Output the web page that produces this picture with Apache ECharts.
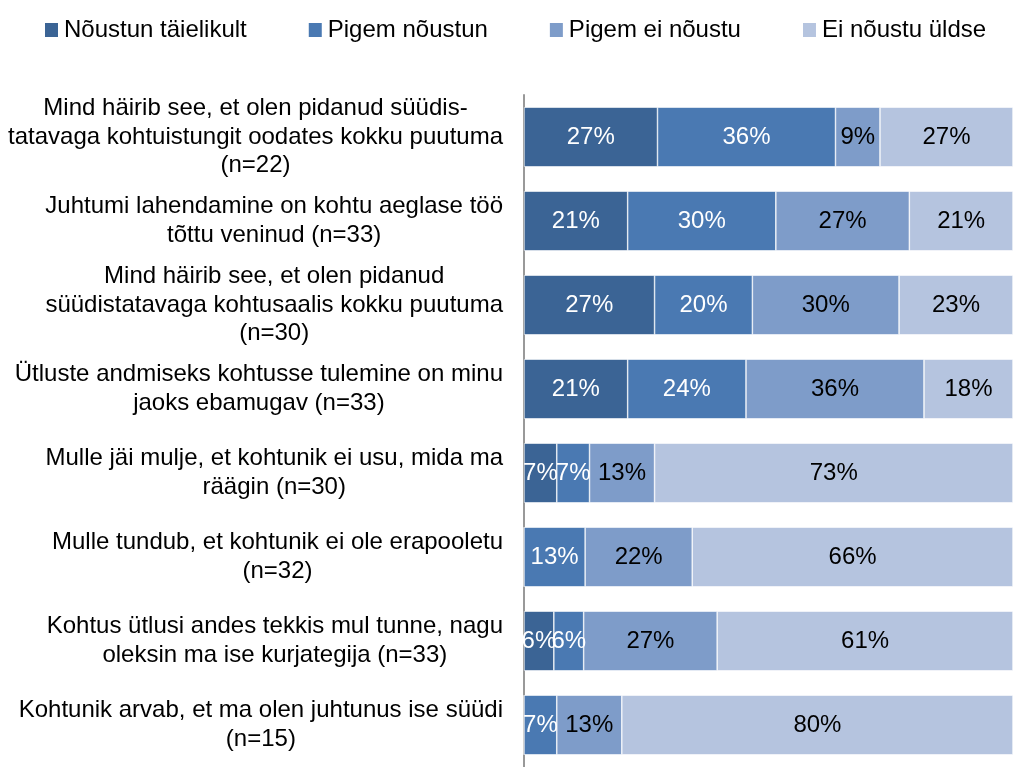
<!DOCTYPE html>
<html>
<head>
<meta charset="utf-8">
<script src="https://cdn.jsdelivr.net/npm/echarts@6/dist/echarts.min.js"></script>
<style>
    html, body { margin: 0; padding: 0; background: #fff; }
    #chart { width: 1014px; height: 767px; }
</style>
</head>
<body>
<div id="chart"></div>
<script>
'use strict';

// küsimused (ülevalt alla)
var categories = [
    'Mind häirib see, et olen pidanud süüdis-\ntatavaga kohtuistungit oodates kokku puutuma\n(n=22)',
    'Juhtumi lahendamine on kohtu aeglase töö\ntõttu veninud (n=33)',
    'Mind häirib see, et olen pidanud\nsüüdistatavaga kohtusaalis kokku puutuma\n(n=30)',
    'Ütluste andmiseks kohtusse tulemine on minu\njaoks ebamugav (n=33)',
    'Mulle jäi mulje, et kohtunik ei usu, mida ma\nräägin (n=30)',
    'Mulle tundub, et kohtunik ei ole erapooletu\n(n=32)',
    'Kohtus ütlusi andes tekkis mul tunne, nagu\noleksin ma ise kurjategija (n=33)',
    'Kohtunik arvab, et ma olen juhtunus ise süüdi\n(n=15)'
];

var seriesNames = ['Nõustun täielikult', 'Pigem nõustun', 'Pigem ei nõustu', 'Ei nõustu üldse'];

// protsendid
var taielikult = [27.3, 21.2, 26.7, 21.2, 6.7, 0, 6.1, 0];
var pigemNoustun = [36.4, 30.3, 20.0, 24.2, 6.7, 12.5, 6.1, 6.7];
var pigemEi = [9.1, 27.3, 30.0, 36.4, 13.3, 21.9, 27.3, 13.3];
var uldseEi = [27.2, 21.2, 23.3, 18.2, 73.3, 65.6, 60.5, 80.0];

var colors = ['#3B6495', '#4A79B2', '#7E9CC9', '#B5C4DF'];
var labelColors = ['#fff', '#fff', '#000', '#000'];
var fontFamily = '"Liberation Sans", Arial, sans-serif';

var chart = echarts.init(document.getElementById('chart'));

var allData = [taielikult, pigemNoustun, pigemEi, uldseEi];
var series = allData.map(function (values, i) {
    return {
        name: seriesNames[i],
        type: 'bar',
        stack: 'kokku',
        barWidth: '71%',
        data: values,
        itemStyle: {
            color: colors[i],
            borderColor: '#fff',
            borderWidth: 0.6
        },
        label: {
            show: true,
            position: 'inside',
            color: labelColors[i],
            fontSize: 24,
            fontFamily: fontFamily,
            formatter: function (p) {
                return p.value > 0 ? Math.round(p.value) + '%' : '';
            }
        }
    };
});

var option = {
    animation: false,
    textStyle: { fontFamily: fontFamily },
    legend: {
        data: seriesNames.map(function (n) {
            return { name: n, icon: 'rect' };
        }),
        left: 40,
        top: 13,
        itemWidth: 13,
        itemHeight: 14,
        itemGap: 62,
        itemStyle: { borderWidth: 0 },
        textStyle: {
            fontSize: 24,
            color: '#000',
            fontFamily: fontFamily,
            padding: [0, 0, 0, 1]
        }
    },
    grid: {
        left: 524,
        right: 1,
        top: 95,
        height: 683
    },
    xAxis: {
        type: 'value',
        min: 0,
        max: 100,
        show: false
    },
    yAxis: {
        type: 'category',
        inverse: true,
        data: categories,
        axisLine: { show: true, lineStyle: { color: '#999999', width: 2 } },
        axisTick: { show: false },
        axisLabel: {
            margin: 21,
            align: 'right',
            formatter: function (val) {
                return val.split('\n').map(function (line) {
                    return '{c|' + line + '}';
                }).join('\n');
            },
            rich: {
                c: {
                    align: 'center',
                    fontSize: 24,
                    lineHeight: 28.5,
                    color: '#000',
                    fontFamily: fontFamily
                }
            }
        }
    },
    series: series
};

chart.setOption(option);
</script>
</body>
</html>
